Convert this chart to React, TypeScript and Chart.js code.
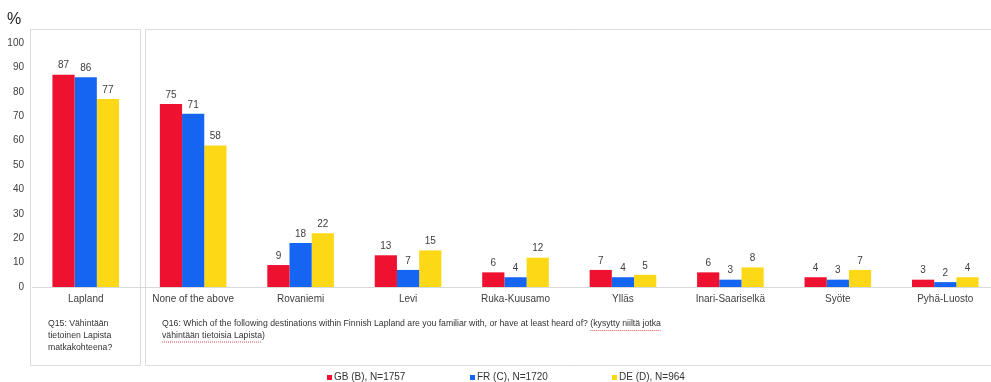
import React, { useEffect, useRef } from "react";
import { Chart, registerables } from "chart.js";

Chart.register(...registerables);

const categories = [
  "Lapland",
  "None of the above",
  "Rovaniemi",
  "Levi",
  "Ruka-Kuusamo",
  "Ylläs",
  "Inari-Saariselkä",
  "Syöte",
  "Pyhä-Luosto",
];
const gbValues = [87, 75, 9, 13, 6, 7, 6, 4, 3];
const frValues = [86, 71, 18, 7, 4, 4, 3, 3, 2];
const deValues = [77, 58, 22, 15, 12, 5, 8, 7, 4];
const seriesLabels = ["GB (B), N=1757", "FR (C), N=1720", "DE (D), N=964"];
const seriesColors = ["#EE1230", "#1664F2", "#FDD816"];
const yTicks = [0, 10, 20, 30, 40, 50, 60, 70, 80, 90, 100];
const q15Lines = ["Q15: Vähintään", "tietoinen Lapista", "matkakohteena?"];
const q16Line1 = "Q16: Which of the following destinations within Finnish Lapland are you familiar with, or have at least heard of? ";
const q16Line1b = "(kysytty niiltä jotka";
const q16Line2 = "vähintään tietoisia Lapista)";

const FONT = "'Liberation Sans', Arial, Helvetica, sans-serif";

const overlayPlugin = {
  id: "overlay",
  beforeDraw(chart: any) {
    const ctx = chart.ctx;
    const xs = chart.scales.x;
    const mid = (xs.getPixelForValue(0) + xs.getPixelForValue(1)) / 2;
    ctx.save();
    ctx.strokeStyle = "#dcdcdc";
    ctx.lineWidth = 1;
    // box 1
    ctx.strokeRect(30.5, 29.5, Math.round(mid) + 1 - 30, 336);
    // box 2 (open on the right)
    const l2 = Math.round(mid) + 6.5;
    ctx.beginPath();
    ctx.moveTo(chart.width, 29.5);
    ctx.lineTo(l2, 29.5);
    ctx.lineTo(l2, 365.5);
    ctx.lineTo(chart.width, 365.5);
    ctx.stroke();
    ctx.restore();
  },
  afterDraw(chart: any) {
    const ctx = chart.ctx;
    ctx.save();
    // percent sign
    ctx.fillStyle = "#222";
    ctx.font = `16px ${FONT}`;
    ctx.textAlign = "left";
    ctx.textBaseline = "middle";
    ctx.fillText("%", 7, 20);

    // data labels
    ctx.font = `10px ${FONT}`;
    ctx.fillStyle = "#404040";
    ctx.textAlign = "center";
    ctx.textBaseline = "bottom";
    chart.data.datasets.forEach((ds: any, i: number) => {
      const meta = chart.getDatasetMeta(i);
      meta.data.forEach((bar: any, j: number) => {
        ctx.fillText(String(ds.data[j]), bar.x, bar.y - 4);
      });
    });

    // question texts
    ctx.font = `8.7px ${FONT}`;
    ctx.fillStyle = "#333";
    ctx.textAlign = "left";
    ctx.textBaseline = "middle";
    q15Lines.forEach((t, i) => ctx.fillText(t, 48, 324 + i * 12));
    const qx = 162;
    ctx.fillText(q16Line1, qx, 324);
    const w1 = ctx.measureText(q16Line1).width;
    ctx.fillText(q16Line1b, qx + w1, 324);
    const w1b = ctx.measureText(q16Line1b).width;
    ctx.fillText(q16Line2, qx, 336);
    const w2 = ctx.measureText(q16Line2).width;
    // spell-check underline
    ctx.strokeStyle = "#e05050";
    ctx.lineWidth = 1;
    ctx.setLineDash([1, 1]);
    ctx.beginPath();
    ctx.moveTo(qx + w1, 330.5);
    ctx.lineTo(qx + w1 + w1b, 330.5);
    ctx.moveTo(qx, 342);
    ctx.lineTo(qx + w2 - 4, 342);
    ctx.stroke();
    ctx.setLineDash([]);

    // legend
    const legendX = [327, 470, 612];
    ctx.font = `10px ${FONT}`;
    chart.data.datasets.forEach((ds: any, i: number) => {
      ctx.fillStyle = ds.backgroundColor;
      ctx.fillRect(legendX[i], 375, 5, 5);
      ctx.fillStyle = "#333";
      ctx.textBaseline = "middle";
      ctx.fillText(ds.label, legendX[i] + 7, 377.5);
    });
    ctx.restore();
  },
};

export default function App() {
  const ref = useRef<HTMLCanvasElement>(null);
  useEffect(() => {
    if (!ref.current) return;
    const values = [gbValues, frValues, deValues];
    const chart = new Chart(ref.current, {
      type: "bar",
      data: {
        labels: categories,
        datasets: values.map((v, i) => ({
          label: seriesLabels[i],
          data: v,
          backgroundColor: seriesColors[i],
          borderWidth: 0,
          categoryPercentage: 0.62,
          barPercentage: 1,
        })),
      },
      options: {
        responsive: false,
        maintainAspectRatio: false,
        animation: false,
        layout: { padding: { left: 0, right: 1, top: 43, bottom: 0 } },
        plugins: {
          legend: { display: false },
          tooltip: { enabled: false },
        },
        scales: {
          x: {
            grid: { display: false, drawTicks: false },
            border: { display: true, color: "#d9d9d9", width: 1 },
            ticks: {
              padding: 6,
              color: "#404040",
              font: { family: FONT, size: 10 },
              maxRotation: 0,
              autoSkip: false,
            },
            afterFit: (s: any) => {
              s.height = 95;
            },
          },
          y: {
            min: 0,
            max: 100,
            afterBuildTicks: (s: any) => {
              s.ticks = yTicks.map((v) => ({ value: v }));
            },
            grid: { display: false, drawTicks: false },
            border: { display: false },
            ticks: {
              padding: 8,
              color: "#404040",
              font: { family: FONT, size: 10 },
            },
            afterFit: (s: any) => {
              s.width = 32;
            },
          },
        },
      },
      plugins: [overlayPlugin],
    });
    return () => chart.destroy();
  }, []);
  return (
    <div
      style={{
        position: "absolute",
        left: 0,
        top: 0,
        width: 991,
        height: 382,
        overflow: "hidden",
        background: "#fff",
      }}
    >
      <canvas ref={ref} width={1000} height={382} style={{ display: "block" }} />
    </div>
  );
}
